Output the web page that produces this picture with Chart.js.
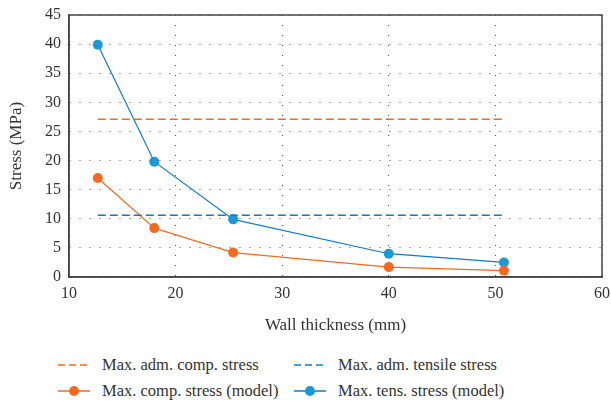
<!DOCTYPE html>
<html>
<head>
<meta charset="utf-8">
<script src="https://cdn.jsdelivr.net/npm/chart.js@4.4.0/dist/chart.umd.min.js"></script>
<style>
    body { margin: 0; background: #fff; font-family: 'Liberation Serif', serif; }
    #wrap { position: relative; width: 611px; height: 340px; }
    #legend { position: absolute; left: 0; top: 353px; width: 611px; font-size: 16.5px; color: #333; }
    .item { position: absolute; height: 24px; line-height: 24px; white-space: nowrap; }
    .item svg { position: absolute; left: 0; top: 0; }
    .item span { position: absolute; }
</style>
</head>
<body>
<div id="wrap"><canvas id="chart" width="611" height="340"></canvas></div>
<div id="legend"></div>
<script>
const thickness = [12.7, 18, 25.4, 40, 50.8];
const compModel = [17, 8.4, 4.2, 1.7, 1.1];
const tensModel = [39.9, 19.8, 9.9, 4.0, 2.5];
const admComp = 27.1;
const admTens = 10.6;
const labels = ['Max. adm. comp. stress', 'Max. adm. tensile stress', 'Max. comp. stress (model)', 'Max. tens. stress (model)'];
const xTicks = [10, 20, 30, 40, 50, 60];
const yTicks = [0, 5, 10, 15, 20, 25, 30, 35, 40, 45];

const orange = '#f46b20';
const blue = '#1d98d6';
const blueDash = '#1579c2';
const serif = "'Liberation Serif', serif";

Chart.defaults.font.family = serif;
Chart.defaults.color = '#333';

function pts(xs, ys) {
    return xs.map((x, i) => ({ x: x, y: ys[i] }));
}

const boxPlugin = {
    id: 'box',
    afterDraw(chart) {
        const a = chart.chartArea;
        const ctx = chart.ctx;
        ctx.save();
        ctx.strokeStyle = '#444';
        ctx.lineWidth = 1.5;
        ctx.strokeRect(a.left, a.top, a.right - a.left, a.bottom - a.top);
        ctx.restore();
    }
};

const tickFont = () => ({ family: serif, size: 16 });

function drawChart() {
    new Chart(document.getElementById('chart'), {
        type: 'line',
        data: {
            datasets: [
                {
                    label: labels[0],
                    data: [{ x: thickness[0], y: admComp }, { x: thickness[thickness.length - 1], y: admComp }],
                    borderColor: orange, borderWidth: 1.4, borderDash: [8, 4], pointRadius: 0
                },
                {
                    label: labels[1],
                    data: [{ x: thickness[0], y: admTens }, { x: thickness[thickness.length - 1], y: admTens }],
                    borderColor: blueDash, borderWidth: 1.4, borderDash: [8, 4], pointRadius: 0
                },
                {
                    label: labels[2],
                    data: pts(thickness, compModel),
                    borderColor: orange, backgroundColor: orange, borderWidth: 1.2,
                    pointRadius: 5, pointBorderWidth: 0
                },
                {
                    label: labels[3],
                    data: pts(thickness, tensModel),
                    borderColor: blueDash, backgroundColor: blue, borderWidth: 1.2,
                    pointRadius: 5, pointBorderWidth: 0
                }
            ]
        },
        options: {
            responsive: false,
            animation: false,
            layout: { padding: { left: 0, top: 15, right: 9, bottom: 0 } },
            plugins: { legend: { display: false }, tooltip: { enabled: false } },
            scales: {
                x: {
                    type: 'linear', min: 10, max: 60,
                    afterBuildTicks: s => { s.ticks = xTicks.map(v => ({ value: v })); },
                    afterFit: s => { s.height = 63; s.paddingRight = 0; },
                    grid: { color: '#555', drawTicks: false, lineWidth: 1 },
                    border: { dash: [1, 9], color: '#444', width: 1.5 },
                    ticks: { color: '#333', padding: 7, maxRotation: 0, font: tickFont },
                    title: { display: true, text: 'Wall thickness (mm)', color: '#333', padding: { top: 3 }, font: { family: serif, size: 17 } }
                },
                y: {
                    type: 'linear', min: 0, max: 45,
                    afterBuildTicks: s => { s.ticks = yTicks.map(v => ({ value: v })); },
                    afterFit: s => { s.width = 69; s.paddingTop = 0; },
                    grid: { color: '#555', drawTicks: false, lineWidth: 1 },
                    border: { dash: [1, 9], color: '#444', width: 1.5 },
                    ticks: { color: '#333', padding: 8, font: tickFont },
                    title: { display: true, text: 'Stress (MPa)', color: '#333', padding: { top: 6, bottom: 0 }, font: { family: serif, size: 17 } }
                }
            }
        },
        plugins: [boxPlugin]
    });
}

// legend in two columns
const legendItems = [
    { col: 0, row: 0, color: orange, dash: true },
    { col: 1, row: 0, color: blueDash, dash: true },
    { col: 0, row: 1, color: orange, dash: false, dot: orange },
    { col: 1, row: 1, color: blueDash, dash: false, dot: blue }
];
const colX = [58, 294];
const legend = document.getElementById('legend');
legendItems.forEach((it, i) => {
    const d = document.createElement('div');
    d.className = 'item';
    d.style.left = colX[it.col] + 'px';
    d.style.top = (it.row * 26) + 'px';
    let svg = '<svg width="34" height="24"><line x1="0" y1="12" x2="32" y2="12" stroke="' + it.color + '" stroke-width="1.5"' +
        (it.dash ? ' stroke-dasharray="7,4"' : '') + '/>';
    if (it.dot) svg += '<circle cx="16" cy="12" r="5" fill="' + it.dot + '"/>';
    svg += '</svg>';
    d.innerHTML = svg + '<span style="left:44px">' + labels[i] + '</span>';
    legend.appendChild(d);
});

document.fonts.load("16px 'Liberation Serif'").then(drawChart, drawChart);
</script>
</body>
</html>
